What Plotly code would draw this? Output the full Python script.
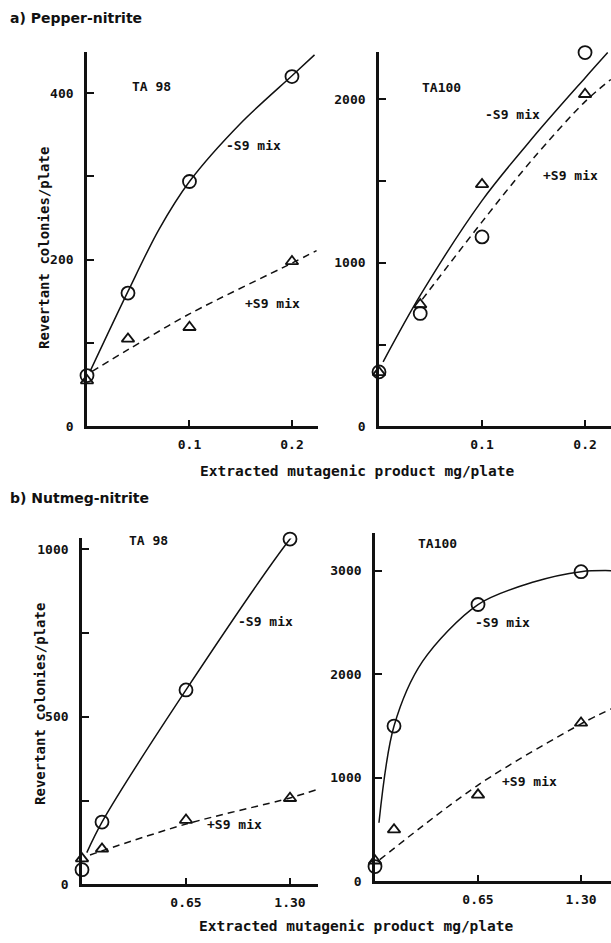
import plotly.graph_objects as go

# ---------------- data ----------------
# a) Pepper-nitrite, TA 98
pa98_x = [0.0, 0.04, 0.1, 0.2]
pa98_minus = [61, 160, 294, 420]
pa98_plus = [55, 105, 119, 198]
pa98_curve_minus_x = [0.003, 0.04, 0.07, 0.1, 0.15, 0.2, 0.222]
pa98_curve_minus_y = [66, 162, 236, 294, 364, 421, 446]
pa98_curve_plus_x = [0.005, 0.04, 0.1, 0.2, 0.224]
pa98_curve_plus_y = [66, 92, 135, 196, 211]

# a) Pepper-nitrite, TA100
pa100_x = [0.0, 0.04, 0.1, 0.2]
pa100_minus = [333, 690, 1158, 2285]
pa100_plus = [330, 745, 1479, 2030]
pa100_curve_minus_x = [0.004, 0.04, 0.1, 0.15, 0.2, 0.222]
pa100_curve_minus_y = [394, 800, 1380, 1770, 2130, 2285]
pa100_curve_plus_x = [0.042, 0.1, 0.15, 0.2, 0.225]
pa100_curve_plus_y = [776, 1250, 1640, 1985, 2120]

# b) Nutmeg-nitrite, TA 98
nb98_x = [0.0, 0.125, 0.65, 1.30]
nb98_minus = [44, 186, 580, 1030]
nb98_plus = [77, 106, 192, 257]
nb98_curve_minus_x = [0.03, 0.125, 0.65, 1.30, 1.44]
nb98_curve_minus_y = [95, 186, 580, 1030, 1107]
nb98_curve_plus_x = [0.05, 0.65, 1.30, 1.47]
nb98_curve_plus_y = [88, 180, 258, 283]

# b) Nutmeg-nitrite, TA100
nb100_x = [0.0, 0.12, 0.65, 1.30]
nb100_minus = [144, 1500, 2673, 2990]
nb100_plus = [200, 500, 836, 1530]
nb100_curve_minus_x = [0.025, 0.12, 0.3, 0.65, 1.0, 1.30, 1.49]
nb100_curve_minus_y = [567, 1500, 2124, 2673, 2890, 2990, 3000]
nb100_curve_plus_x = [0.03, 0.65, 1.30, 1.49]
nb100_curve_plus_y = [210, 930, 1521, 1665]

# tick values / labels
pa98_yticks = [0, 100, 200, 300, 400]
pa98_ytext = ["0", "", "200", "", "400"]
pa100_yticks = [0, 500, 1000, 1500, 2000]
pa100_ytext = ["0", "", "1000", "", "2000"]
nb98_yticks = [0, 250, 500, 750, 1000]
nb98_ytext = ["0", "", "500", "", "1000"]
nb100_yticks = [0, 1000, 2000, 3000]
nb100_ytext = ["0", "1000", "2000", "3000"]
pa_xticks = [0.1, 0.2]
pa_xtext = ["0.1", "0.2"]
nb_xticks = [0.65, 1.30]
nb_xtext = ["0.65", "1.30"]

W, H = 611, 943
INK = "#111111"
MONO = "DejaVu Sans Mono"

fig = go.Figure()

panels = [
    ("", pa98_x, pa98_minus, pa98_plus, pa98_curve_minus_x, pa98_curve_minus_y,
     pa98_curve_plus_x, pa98_curve_plus_y, (87, 318), (430, 52), 0.2254, 450,
     pa98_yticks, pa98_ytext, pa_xticks, pa_xtext),
    ("2", pa100_x, pa100_minus, pa100_plus, pa100_curve_minus_x, pa100_curve_minus_y,
     pa100_curve_plus_x, pa100_curve_plus_y, (379, 611), (430, 52), 0.2252, 2291,
     pa100_yticks, pa100_ytext, pa_xticks, pa_xtext),
    ("3", nb98_x, nb98_minus, nb98_plus, nb98_curve_minus_x, nb98_curve_minus_y,
     nb98_curve_plus_x, nb98_curve_plus_y, (82, 318), (892, 543), 1.475, 1032,
     nb98_yticks, nb98_ytext, nb_xticks, nb_xtext),
    ("4", nb100_x, nb100_minus, nb100_plus, nb100_curve_minus_x, nb100_curve_minus_y,
     nb100_curve_plus_x, nb100_curve_plus_y, (375, 611), (889, 538), 1.489, 3359,
     nb100_yticks, nb100_ytext, nb_xticks, nb_xtext),
]

for (s, xs, mi, pl, cmx, cmy, cpx, cpy, xd, yd, xr, yr, yt, ytt, xt, xtt) in panels:
    xa, ya = "x" + s, "y" + s
    fig.add_trace(go.Scatter(x=cmx, y=cmy, mode="lines", xaxis=xa, yaxis=ya,
                             line=dict(color=INK, width=1.5, shape="spline", smoothing=0.9),
                             showlegend=False, hoverinfo="skip"))
    fig.add_trace(go.Scatter(x=cpx, y=cpy, mode="lines", xaxis=xa, yaxis=ya,
                             line=dict(color=INK, width=1.5, dash="7px,5px",
                                       shape="spline", smoothing=0.9),
                             showlegend=False, hoverinfo="skip"))
    fig.add_trace(go.Scatter(x=xs, y=pl, mode="markers", xaxis=xa, yaxis=ya,
                             marker=dict(symbol="triangle-up-open", size=11, color=INK,
                                         line=dict(width=1.8, color=INK)),
                             cliponaxis=False, showlegend=False))
    fig.add_trace(go.Scatter(x=xs, y=mi, mode="markers", xaxis=xa, yaxis=ya,
                             marker=dict(symbol="circle-open", size=13, color=INK,
                                         line=dict(width=1.8, color=INK)),
                             cliponaxis=False, showlegend=False))
    axcommon = dict(showgrid=False, zeroline=False, showline=True, linecolor=INK,
                    linewidth=2.6, ticks="inside", ticklen=7, tickwidth=1.6,
                    tickcolor=INK, tickfont=dict(family=MONO, size=13, color=INK, weight="bold"))
    fig.layout["xaxis" + s] = dict(
        axcommon, domain=[xd[0] / W, xd[1] / W], range=[0, xr],
        anchor=ya, tickvals=xt, ticktext=xtt, ticklabelstandoff=4)
    fig.layout["yaxis" + s] = dict(
        axcommon, domain=[1 - yd[0] / H, 1 - yd[1] / H], range=[0, yr],
        anchor=xa, tickvals=yt, ticktext=ytt, ticklabelstandoff=8)

def px(x, y):
    return x / W, 1 - y / H

ann = []
def add_text(text, x, y, size=13, bold=True, family=MONO, angle=0, xanchor="center"):
    ax, ay = px(x, y)
    t = "<b>" + text + "</b>" if bold else text
    ann.append(dict(text=t, x=ax, y=ay, xref="paper", yref="paper", showarrow=False,
                    xanchor=xanchor, yanchor="middle", textangle=angle,
                    font=dict(family=family, size=size, color=INK)))

# panel titles
add_text("a) Pepper-nitrite", 8, 18, size=14, family="DejaVu Sans", xanchor="left")
add_text("b) Nutmeg-nitrite", 8, 502, size=14, family="DejaVu Sans", xanchor="left")

# axis titles
add_text("Extracted mutagenic product mg/plate", 357, 475, size=14.5)
add_text("Extracted mutagenic product mg/plate", 356, 934, size=14.5)
add_text("Revertant colonies/plate", 44, 250, size=14, angle=-90)
add_text("Revertant colonies/plate", 40, 710, size=14, angle=-90)

# in-panel labels
add_text("TA 98", 151, 87)
add_text("-S9 mix", 253, 147)
add_text("+S9 mix", 272, 306)
add_text("TA100", 441, 88)
add_text("-S9 mix", 512, 115)
add_text("+S9 mix", 570, 177)
add_text("TA 98", 148, 545)
add_text("-S9 mix", 265, 627)
add_text("+S9 mix", 234, 832)
add_text("TA100", 438, 548)
add_text("-S9 mix", 502, 628)
add_text("+S9 mix", 529, 788)

fig.update_layout(
    width=W, height=H, margin=dict(l=0, r=0, t=0, b=0),
    paper_bgcolor="white", plot_bgcolor="white",
    annotations=ann, showlegend=False,
)

fig.write_html("out.html")
